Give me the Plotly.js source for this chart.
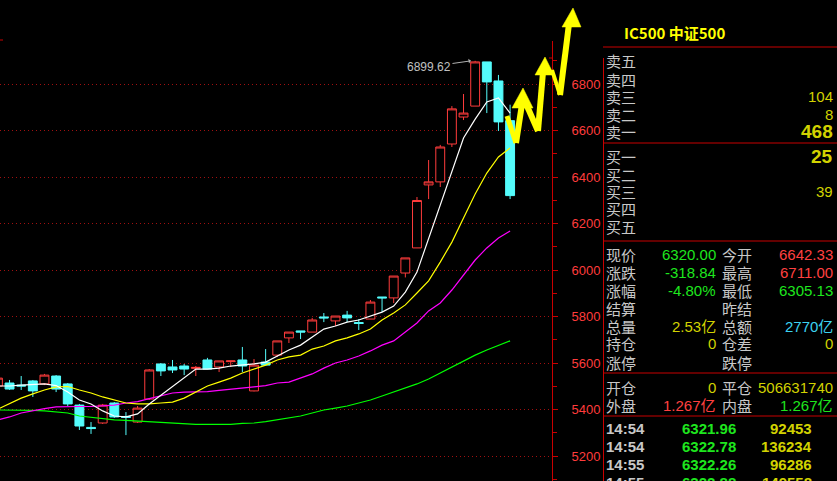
<!DOCTYPE html>
<html><head><meta charset="utf-8">
<script src="https://cdn.plot.ly/plotly-3.0.1.min.js"></script>
<style>html,body{margin:0;padding:0;background:#000;overflow:hidden}#chart{width:837px;height:481px}</style>
</head><body><div id="chart"></div>
<script>
// ---- data ----
const idx = [0,1,2,3,4,5,6,7,8,9,10,11,12,13,14,15,16,17,18,19,20,21,22,23,24,25,26,27,28,29,30,31,32,33,34,35,36,37,38,39,40,41,42,43,44];
const openP  = [5501,5514,5505,5523,5510,5544,5510,5419,5323,5342,5428,5370,5346,5445,5596,5583,5587,5577,5613,5583,5606,5613,5480,5604,5634,5708,5738,5733,5798,5781,5806,5774,5789,5884,5880,5987,6095,6366,6379,6542,6658,6705,6895,6813,6642.33];
const highP  = [5540,5527,5544,5527,5553,5548,5514,5424,5346,5424,5432,5389,5415,5574,5600,5613,5596,5587,5622,5609,5609,5669,5617,5660,5695,5733,5738,5794,5815,5802,5824,5789,5871,5884,5974,6052,6314,6473,6538,6705,6757,6899.62,6895,6839,6711];
const lowP   = [5498,5484,5484,5454,5505,5475,5415,5312,5295,5338,5364,5290,5342,5441,5544,5557,5548,5544,5574,5561,5583,5561,5478,5591,5626,5686,5703,5733,5776,5759,5776,5742,5789,5819,5858,5968,6095,6305,6357,6529,6645,6705,6675,6598,6305.13];
const closeP = [5535,5488,5501,5480,5548,5488,5424,5329,5318,5419,5368,5366,5406,5570,5566,5570,5574,5581,5574,5609,5609,5587,5591,5591,5695,5733,5733,5785,5794,5802,5794,5770,5862,5880,5974,6052,6299,6379,6529,6693,6675,6895,6809,6637,6320];
const ma5  = [5501,5501,5505,5507,5510,5503,5475,5441,5424,5394,5372,5368,5381,5424,5462,5501,5540,5574,5574,5578,5587,5591,5596,5604,5630,5656,5677,5712,5746,5759,5776,5785,5802,5819,5845,5905,5991,6133,6284,6422,6568,6649,6723,6740,6675];
const ma10 = [5402,5424,5449,5467,5484,5497,5499,5484,5471,5454,5441,5428,5424,5424,5428,5432,5449,5475,5501,5518,5535,5557,5574,5591,5613,5626,5634,5660,5673,5695,5708,5725,5746,5785,5815,5850,5901,5953,6034,6120,6224,6327,6417,6486,6525];
const ma20 = [5355,5368,5385,5396,5404,5411,5413,5413,5413,5415,5419,5428,5434,5447,5460,5471,5475,5475,5477,5482,5486,5490,5497,5503,5514,5518,5535,5553,5578,5600,5613,5630,5652,5677,5695,5733,5772,5824,5858,5914,5978,6043,6095,6138,6168];
const ma60 = [5398,5398,5398,5396,5394,5389,5385,5372,5366,5359,5355,5353,5350,5346,5342,5340,5338,5336,5336,5336,5336,5340,5342,5348,5357,5363,5372,5385,5398,5406,5415,5428,5441,5458,5475,5493,5510,5531,5557,5583,5609,5634,5656,5677,5695];
const yTickVals = [5200,5400,5600,5800,6000,6200,6400,6600,6800];
const yTickText = ['5200','5400','5600','5800','6000','6200','6400','6600','6800'];
const yMinorVals = [5100,5300,5500,5700,5900,6100,6300,6500,6700,6900];
const peakLabel = '6899.62';

const titleText = 'IC500 中证500';
const askLabels = ['卖五','卖四','卖三','卖二','卖一'];
const askVols   = ['','','104','8','468'];
const bidLabels = ['买一','买二','买三','买四','买五'];
const bidVols   = ['25','','39','',''];
const qLeftLabels  = ['现价','涨跌','涨幅','结算','总量','持仓','涨停'];
const qLeftValues  = ['6320.00','-318.84','-4.80%','','2.53亿','0',''];
const qRightLabels = ['今开','最高','最低','昨结','总额','仓差','跌停'];
const qRightValues = ['6642.33','6711.00','6305.13','','2770亿','0',''];
const posLabels = ['开仓','外盘']; const posValues = ['0','1.267亿'];
const posLabels2 = ['平仓','内盘']; const posValues2 = ['506631740','1.267亿'];
const tickTimes  = ['14:54','14:54','14:55','14:55'];
const tickPrices = ['6321.96','6322.78','6322.26','6322.88'];
const tickVols   = ['92453','136234','96286','149558'];

// ---- styles ----
const W=837,H=481;
const PX=x=>x/W, PY=y=>1-y/H;
const RED='#ff4040', GRN='#1ee61e', YEL='#d2d200', CYN='#3cd2f0', GRY='#c8c8c8', LINE='#c80000';
const CJK='Noto Sans CJK SC, sans-serif', NUM='Liberation Sans, Noto Sans CJK SC, sans-serif';

const traces = [
  {type:'candlestick', x:idx, open:openP, high:highP, low:lowP, close:closeP,
   increasing:{line:{color:'#ff3c3c',width:1}, fillcolor:'#000000'},
   decreasing:{line:{color:'#54fcfc',width:1}, fillcolor:'#54fcfc'},
   whiskerwidth:0, hoverinfo:'skip'},
  {type:'scatter', mode:'lines', x:idx, y:ma60, line:{color:'#00ff00',width:1.2}, hoverinfo:'skip'},
  {type:'scatter', mode:'lines', x:idx, y:ma20, line:{color:'#ff00ff',width:1.2}, hoverinfo:'skip'},
  {type:'scatter', mode:'lines', x:idx, y:ma10, line:{color:'#ffff00',width:1.2}, hoverinfo:'skip'},
  {type:'scatter', mode:'lines', x:idx, y:ma5,  line:{color:'#ffffff',width:1.2}, hoverinfo:'skip'}
];

const ann = [];
function txt(x,y,t,color,anchor,size,fam,bold){
  if(!t) return;
  ann.push({xref:'paper',yref:'paper',x:PX(x),y:PY(y),text:bold?'<b>'+t+'</b>':t,showarrow:false,
    xanchor:anchor,yanchor:'middle',font:{family:fam,size:size,color:color},borderpad:0});
}
txt(623,33,titleText,'#ffff00','left',15,CJK,true);
const askY=[61,79,97,114,131], bidY=[157,174,191,209,226];
askLabels.forEach((l,i)=>{txt(605,askY[i],l,GRY,'left',15,CJK); const big=(i===4); txt(834,askY[i],askVols[i],YEL,'right',big?19:15,NUM,big);});
bidLabels.forEach((l,i)=>{txt(605,bidY[i],l,GRY,'left',15,CJK); const big=(i===0); txt(834,bidY[i],bidVols[i],YEL,'right',big?19:15,NUM,big);});
const qY=[254,272,290,308,326,343,362];
const qLC=[GRN,GRN,GRN,GRN,YEL,YEL,YEL], qRC=[RED,RED,GRN,GRN,CYN,YEL,YEL];
qLeftLabels.forEach((l,i)=>{txt(605,qY[i],l,GRY,'left',15,CJK); txt(717,qY[i],qLeftValues[i],qLC[i],'right',15,NUM);
  txt(721,qY[i],qRightLabels[i],GRY,'left',15,CJK); txt(834,qY[i],qRightValues[i],qRC[i],'right',15,NUM);});
const pY=[387,405], pC=[YEL,RED], pC2=[YEL,GRN];
posLabels.forEach((l,i)=>{txt(605,pY[i],l,GRY,'left',15,CJK); txt(717,pY[i],posValues[i],pC[i],'right',15,NUM);
  txt(721,pY[i],posLabels2[i],GRY,'left',15,CJK); txt(834,pY[i],posValues2[i],pC2[i],'right',15,NUM);});
const tY=[428,446,464,482];
tickTimes.forEach((t,i)=>{txt(605,tY[i],t,GRY,'left',15,NUM,true); txt(737,tY[i],tickPrices[i],GRN,'right',15,NUM,true); txt(813,tY[i],tickVols[i],YEL,'right',15,NUM,true);});

// peak label with arrow
ann.push({xref:'x',yref:'y',x:40.64,y:highP[41],text:peakLabel,showarrow:true,ax:-42,ay:6,
  arrowhead:1,arrowsize:0.8,arrowwidth:1,arrowcolor:'#b0b0b0',standoff:0,
  font:{family:NUM,size:12,color:'#c0c0c0'}});

const shapes = [];
function ln(x0,y0,x1,y1,color,w){shapes.push({type:'line',xref:'paper',yref:'paper',x0:PX(x0),y0:PY(y0),x1:PX(x1),y1:PY(y1),line:{color:color,width:w||1}});}
ln(552.5,41,552.5,481,LINE,1);
ln(603.5,58,603.5,481,LINE,1);
ln(603,47,837,47,LINE,1);
ln(603,143,837,143,LINE,1);
ln(603,241,837,241,LINE,1);
ln(603,373,837,373,LINE,1);
ln(603,416,837,416,LINE,1);
ln(0,40,3,40,LINE,1);
ln(549,58,552,58,LINE,1);
// yellow zigzag arrows (decoration)
const AY='#ffff00';
ln(507,116,516,143,AY,5); ln(516,143,522,104,AY,6);
ln(527,106,538,131,AY,6); ln(538,131,543,72,AY,6);
ln(552,70,560,95,AY,4); ln(560,95,569,24,AY,6);
function tri(a,b,c){shapes.push({type:'path',xref:'paper',yref:'paper',
  path:`M ${PX(a[0])} ${PY(a[1])} L ${PX(b[0])} ${PY(b[1])} L ${PX(c[0])} ${PY(c[1])} Z`,fillcolor:AY,line:{color:AY,width:0.5}});}
tri([523,88],[512,108],[533,108]);
tri([545,57],[535,75],[554,75]);
tri([573,8],[562,27],[581,27]);

const layout = {
  width:W, height:H, paper_bgcolor:'#000', plot_bgcolor:'#000',
  margin:{l:0,r:0,t:0,b:0}, showlegend:false,
  boxgap:0.15, boxgroupgap:0.1,
  xaxis:{domain:[0,552/W], range:[0.18,47.6], showgrid:false, zeroline:false, showticklabels:false,
    ticks:'', showline:false, rangeslider:{visible:false}, fixedrange:true},
  yaxis:{domain:[0,1], range:[5092.5,7161.3], side:'right', tickmode:'array', tickvals:yTickVals, ticktext:yTickText,
    ticks:'outside', ticklen:5, tickcolor:LINE, tickwidth:1, showline:false, zeroline:false,
    showgrid:true, gridcolor:'#a01010', griddash:'1px,3px', gridwidth:1,
    tickfont:{family:'Liberation Sans, sans-serif', size:13, color:'#ff3c3c'}, ticklabelstandoff:11,
    minor:{tickmode:'array', tickvals:yMinorVals, ticks:'outside', ticklen:4, tickcolor:LINE, showgrid:false}, fixedrange:true},
  annotations:ann, shapes:shapes
};
Plotly.newPlot('chart', traces, layout, {staticPlot:true, displayModeBar:false});
</script></body></html>
